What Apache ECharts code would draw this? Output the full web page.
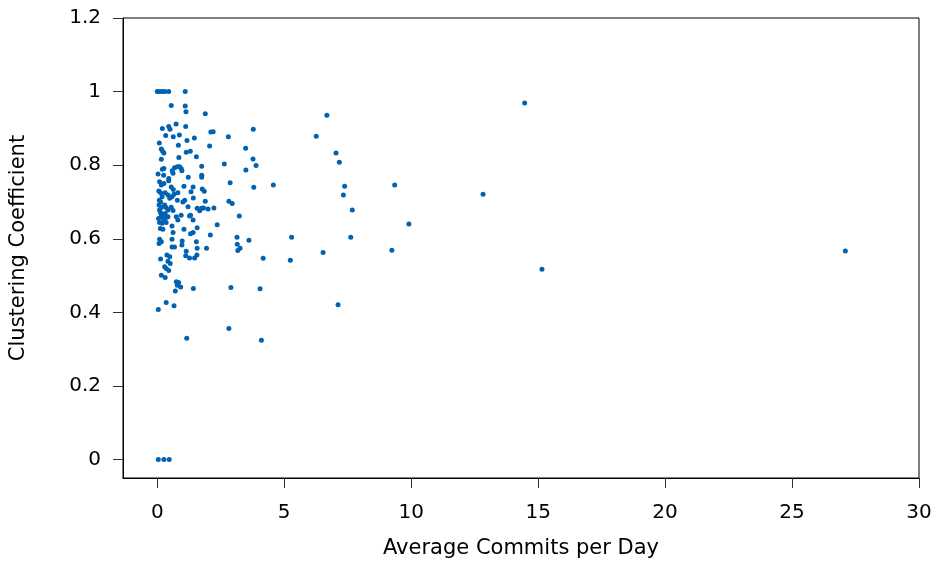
<!DOCTYPE html>
<html>
<head>
<meta charset="utf-8">
<script src="https://cdn.jsdelivr.net/npm/echarts@6/dist/echarts.min.js"></script>
<style>
  html, body { margin: 0; padding: 0; background: #fff; }
  #chart { width: 941px; height: 567px; }
</style>
</head>
<body>
<div id="chart"></div>
<script>
// average commits per day (x) and clustering coefficient (y)
const avgCommits = [
  14.47, 27.1, 15.15, 12.83, 9.91, 9.35, 9.24, 7.68, 7.62, 7.38, 7.33, 7.17, 7.04, 7.12, 6.68, 6.26, 6.53,
  5.29, 5.24, 4.57, 4.17, 4.05, 4.1, 3.78, 3.77, 3.89, 3.8, 3.61, 3.48, 3.49, 3.23, 3.14, 3.15, 3.26, 3.17,
  2.95, 2.82, 2.87, 2.9, 2.82, 2.8, 2.64, 2.36, 2.09, 1.94, 1.89, 2.11, 2.2, 2.06, 1.75, 1.75, 1.75,
  1.77, 1.85, 1.89, 1.57, 1.67, 1.74, 1.82, 2.0, 2.23,
  0, 0.1, 0.2, 0.3, 0.45, 1.1,
  0.55, 1.1, 1.13,
  0.2, 0.45, 0.5, 0.74, 1.12,
  0.33, 0.63, 0.87, 1.17, 1.46,
  0.08, 0.83,
  0.16, 0.21, 0.26, 1.14, 1.3,
  0.85, 1.54, 0.16,
  0.03, 0.2, 0.26, 0.25, 0.45, 0.45,
  0.59, 0.68, 0.79, 0.88, 0.94, 0.97,
  0.62, 1.22,
  0.09, 0.16, 0.26, 1.05, 1.41,
  0.55, 0.63,
  0.06, 0.13, 0.31, 0.42,
  0.19, 0.08, 0.13,
  0.49, 0.58, 0.66,
  0.81, 0.79,
  1.01, 1.08, 1.42, 1.33,
  1.21, 1.31,
  0.07, 0.16, 0.09, 0.13, 0.19,
  0.29, 0.35, 0.42, 0.31, 0.42,
  0.55, 0.62, 0.94,
  0.05, 0.15, 0.25, 0.35, 0.75, 0.81, 1.27, 1.41,
  0.09, 0.19, 0.35,
  0.12, 0.22, 0.58, 1.05, 1.31, 1.41, 1.57, 0.62,
  0.09, 0.16, 0.07, 0.58, 0.98, 0.97, 1.54, 1.57, 0.58, 0.68, 1.14, 1.12, 1.27, 1.47, 1.56,
  0.38, 0.49, 0.13, 0.42, 0.51, 0.29, 0.35, 0.45, 0.16, 0.31,
  0.75, 0.84, 0.79, 0.92, 0.71, 1.42, 0.35, 0.66, 0.04, 1.16,
  0.04, 0.26, 0.47
];
const clusteringCoef = [
  0.969, 0.567, 0.517, 0.721, 0.640, 0.746, 0.569, 0.678, 0.604, 0.743, 0.719, 0.808, 0.833, 0.421, 0.936, 0.879, 0.563,
  0.604, 0.542, 0.746, 0.547, 0.464, 0.324, 0.898, 0.817, 0.799, 0.740, 0.596, 0.846, 0.787, 0.662, 0.604, 0.585, 0.574, 0.568,
  0.696, 0.702, 0.752, 0.468, 0.356, 0.877, 0.803, 0.638, 0.610, 0.574, 0.940, 0.890, 0.891, 0.852, 0.797, 0.773, 0.767,
  0.735, 0.729, 0.702, 0.683, 0.676, 0.683, 0.684, 0.681, 0.684,
  1, 1, 1, 1, 1, 1,
  0.962, 0.961, 0.945,
  0.900, 0.905, 0.898, 0.912, 0.905,
  0.881, 0.877, 0.882, 0.867, 0.874,
  0.860, 0.854,
  0.844, 0.838, 0.833, 0.835, 0.838,
  0.821, 0.823, 0.816,
  0.776, 0.789, 0.791, 0.773, 0.764, 0.758,
  0.785, 0.793, 0.796, 0.796, 0.791, 0.785,
  0.778, 0.767,
  0.755, 0.746, 0.750, 0.743, 0.741,
  0.741, 0.734,
  0.730, 0.725, 0.725, 0.719,
  0.714, 0.705, 0.700,
  0.710, 0.714, 0.721,
  0.725, 0.705,
  0.700, 0.705, 0.711, 0.728,
  0.687, 0.664,
  0.692, 0.685, 0.678, 0.671, 0.664,
  0.692, 0.685, 0.678, 0.669, 0.660,
  0.686, 0.677, 0.664,
  0.655, 0.660, 0.652, 0.658, 0.660, 0.651, 0.662, 0.651,
  0.644, 0.642, 0.644,
  0.628, 0.626, 0.635, 0.626, 0.614, 0.617, 0.630, 0.617,
  0.599, 0.592, 0.587, 0.599, 0.594, 0.583, 0.592, 0.574, 0.578, 0.578, 0.566, 0.554, 0.548, 0.548, 0.556,
  0.556, 0.551, 0.545, 0.539, 0.533, 0.524, 0.519, 0.514, 0.501, 0.495,
  0.483, 0.481, 0.474, 0.469, 0.458, 0.465, 0.427, 0.418, 0.408, 0.330,
  0, 0, 0
];
const xTicks = [0, 5, 10, 15, 20, 25, 30];
const yTicks = [0, 0.2, 0.4, 0.6, 0.8, 1, 1.2];

const chart = echarts.init(document.getElementById('chart'));
const font = 'DejaVu Sans';

const option = {
  animation: false,
  grid: {
    left: 123, right: 22, top: 18, bottom: 89,
    show: true, borderColor: '#000', borderWidth: 1
  },
  xAxis: {
    type: 'value',
    min: -1.35,
    max: 30,
    name: 'Average Commits per Day',
    nameLocation: 'middle',
    nameGap: 60,
    nameTextStyle: { fontFamily: font, fontSize: 21, color: '#000' },
    axisLine: { onZero: false, lineStyle: { color: '#000', width: 1 } },
    axisTick: { show: true, inside: false, length: 10, customValues: xTicks, lineStyle: { color: '#333' } },
    axisLabel: { customValues: xTicks, margin: 25, fontFamily: font, fontSize: 20, color: '#000' },
    splitLine: { show: false }
  },
  yAxis: {
    type: 'value',
    min: -0.05,
    max: 1.2,
    name: 'Clustering Coefficient',
    nameLocation: 'middle',
    nameGap: 94,
    nameTextStyle: { fontFamily: font, fontSize: 21, color: '#000' },
    axisLine: { show: true, onZero: false, lineStyle: { color: '#000', width: 1 } },
    axisTick: { show: true, inside: false, length: 10, customValues: yTicks, lineStyle: { color: '#333' } },
    axisLabel: { customValues: yTicks, margin: 22, fontFamily: font, fontSize: 20, color: '#000' },
    splitLine: { show: false }
  },
  series: [{
    type: 'scatter',
    symbolSize: 5,
    itemStyle: { color: '#0062b1', opacity: 1 },
    data: avgCommits.map((x, i) => [x, clusteringCoef[i]])
  }]
};

chart.setOption(option);
</script>
</body>
</html>
